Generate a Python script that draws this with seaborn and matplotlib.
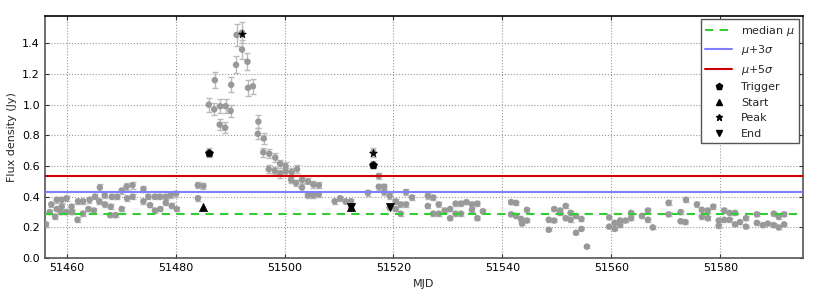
import matplotlib
matplotlib.use("Agg")
import numpy as np
import pandas as pd
import matplotlib.pyplot as plt
import seaborn as sns
from matplotlib.lines import Line2D

# light curve points (MJD, flux density in Jy, error)
mjd = [
    # quiescent start
    51456.2, 51456.9, 51457.2, 51457.9, 51458.2, 51458.2, 51458.9, 51459.1, 51459.1, 51460.0,
    51460.0, 51460.9, 51461.0, 51462.0, 51462.1, 51463.0, 51463.0, 51464.0, 51464.2, 51465.0,
    51465.2, 51466.0, 51466.1, 51467.0, 51467.0, 51468.0, 51468.1, 51468.3, 51469.0, 51469.3,
    51470.1, 51470.1, 51471.0, 51471.1, 51472.1, 51472.1, 51474.1, 51474.1, 51475.0, 51475.3,
    51476.2, 51476.2, 51477.1, 51477.2, 51478.2, 51478.2, 51479.1, 51479.3, 51480.1, 51480.2,
    # flare 1
    51484.1, 51485.1, 51484.1, 51486.1, 51486.1, 51487.1, 51487.2, 51488.1, 51488.2, 51489.1,
    51489.2, 51490.1, 51490.2, 51491.1, 51491.2, 51492.2, 51492.2, 51493.2, 51493.3, 51494.2,
    51495.2, 51495.1, 51496.2, 51496.1, 51497.2, 51497.1, 51498.3, 51498.2, 51499.2, 51499.2,
    51500.2, 51500.2, 51501.2, 51501.3, 51502.3, 51502.1, 51503.2, 51503.2, 51504.3, 51504.3,
    51505.3, 51505.3, 51506.3, 51506.3,
    # flare 2 and after
    51509.2, 51510.2, 51511.2, 51512.2, 51512.2, 51515.3, 51516.2, 51516.3, 51517.3, 51517.3,
    51518.3, 51518.3, 51519.3, 51519.3, 51520.4, 51520.4, 51521.3, 51521.3, 51522.3, 51522.3,
    51523.4, 51526.3, 51526.3, 51527.3, 51527.3, 51528.3, 51528.3, 51529.4, 51530.4, 51530.4,
    51531.4, 51531.4, 51532.4, 51532.4, 51533.4, 51534.4, 51534.4, 51535.4, 51535.4, 51536.4,
    # later
    51541.6, 51542.5, 51541.6, 51542.5, 51543.4, 51543.6, 51544.5, 51544.5, 51548.5, 51548.5,
    51549.5, 51549.5, 51550.6, 51550.6, 51551.6, 51551.6, 51552.5, 51552.5, 51553.5, 51553.5,
    51554.5, 51554.5, 51555.5, 51559.6, 51559.6, 51560.6, 51560.6, 51561.6, 51561.6, 51562.6,
    51563.6, 51563.6, 51565.6, 51566.7, 51566.7, 51567.6, 51570.5, 51570.5,
    51572.7, 51572.7, 51573.6, 51573.7, 51575.7, 51576.6, 51576.6, 51577.7, 51577.7, 51578.7,
    51579.7, 51579.7, 51580.7, 51580.7, 51581.7, 51581.7, 51582.7, 51582.7, 51583.6, 51584.7,
    51584.7, 51586.7, 51586.7, 51587.8, 51588.7, 51589.8, 51589.8, 51590.7, 51590.7, 51591.7,
    51591.7,
]
flux = [
    0.22, 0.30, 0.35, 0.27, 0.32, 0.38, 0.30, 0.38, 0.335, 0.39,
    0.30, 0.335, 0.30, 0.25, 0.37, 0.37, 0.29, 0.32, 0.38, 0.31,
    0.40, 0.37, 0.46, 0.41, 0.35, 0.28, 0.335, 0.40, 0.28, 0.40,
    0.44, 0.32, 0.465, 0.39, 0.475, 0.40, 0.45, 0.37, 0.40, 0.345,
    0.40, 0.31, 0.40, 0.32, 0.40, 0.36, 0.41, 0.34, 0.42, 0.32,
    0.475, 0.47, 0.39, 0.69, 1.00, 0.97, 1.16, 0.87, 0.99, 0.85,
    0.99, 0.96, 1.13, 1.26, 1.455, 1.36, 1.47, 1.28, 1.11, 1.12,
    0.89, 0.81, 0.78, 0.69, 0.68, 0.58, 0.655, 0.57, 0.615, 0.55,
    0.60, 0.565, 0.51, 0.56, 0.58, 0.49, 0.51, 0.46, 0.50, 0.41,
    0.48, 0.41, 0.475, 0.415,
    0.37, 0.39, 0.37, 0.37, 0.33, 0.425, 0.61, 0.69, 0.535, 0.465,
    0.465, 0.43, 0.405, 0.33, 0.37, 0.32, 0.35, 0.29, 0.43, 0.35,
    0.395, 0.405, 0.34, 0.395, 0.29, 0.29, 0.35, 0.31, 0.32, 0.26,
    0.29, 0.355, 0.355, 0.29, 0.365, 0.35, 0.315, 0.26, 0.355, 0.305,
    0.365, 0.36, 0.285, 0.275, 0.255, 0.225, 0.245, 0.315, 0.185, 0.25,
    0.245, 0.32, 0.31, 0.295, 0.34, 0.26, 0.25, 0.295, 0.165, 0.275,
    0.255, 0.19, 0.075, 0.265, 0.205, 0.23, 0.19, 0.245, 0.215, 0.245,
    0.295, 0.26, 0.275, 0.31, 0.25, 0.20, 0.36, 0.285,
    0.30, 0.24, 0.235, 0.38, 0.35, 0.315, 0.27, 0.31, 0.26, 0.335,
    0.245, 0.21, 0.31, 0.25, 0.295, 0.25, 0.295, 0.22, 0.235, 0.26,
    0.205, 0.285, 0.23, 0.215, 0.225, 0.29, 0.215, 0.20, 0.27, 0.285,
    0.22,
]
flux_err = [
    0.015, 0.015, 0.015, 0.015, 0.015, 0.018, 0.015, 0.018, 0.015, 0.018,
    0.015, 0.015, 0.015, 0.015, 0.018, 0.018, 0.015, 0.015, 0.018, 0.015,
    0.018, 0.018, 0.022, 0.02, 0.015, 0.015, 0.015, 0.018, 0.015, 0.018,
    0.02, 0.015, 0.022, 0.018, 0.022, 0.018, 0.02, 0.018, 0.018, 0.015,
    0.018, 0.015, 0.018, 0.015, 0.018, 0.016, 0.018, 0.016, 0.02, 0.015,
    0.02, 0.02, 0.015, 0.03, 0.045, 0.04, 0.05, 0.035, 0.045, 0.035,
    0.045, 0.04, 0.05, 0.055, 0.07, 0.06, 0.07, 0.055, 0.05, 0.05,
    0.04, 0.035, 0.035, 0.03, 0.03, 0.025, 0.03, 0.025, 0.025, 0.025,
    0.025, 0.025, 0.02, 0.025, 0.025, 0.02, 0.02, 0.02, 0.02, 0.015,
    0.02, 0.015, 0.02, 0.015,
    0.016, 0.018, 0.016, 0.016, 0.015, 0.02, 0.025, 0.03, 0.022, 0.02,
    0.02, 0.018, 0.018, 0.015, 0.016, 0.015, 0.015, 0.013, 0.018, 0.015,
    0.016, 0.017, 0.015, 0.016, 0.013, 0.013, 0.015, 0.014, 0.014, 0.012,
    0.013, 0.015, 0.015, 0.013, 0.015, 0.015, 0.014, 0.012, 0.015, 0.014,
    0.015, 0.015, 0.013, 0.013, 0.012, 0.011, 0.012, 0.014, 0.01, 0.012,
    0.012, 0.014, 0.014, 0.013, 0.015, 0.012, 0.012, 0.013, 0.01, 0.013,
    0.012, 0.01, 0.008, 0.012, 0.011, 0.011, 0.01, 0.012, 0.011, 0.012,
    0.013, 0.012, 0.013, 0.014, 0.012, 0.011, 0.016, 0.013,
    0.013, 0.012, 0.012, 0.017, 0.015, 0.014, 0.013, 0.014, 0.012, 0.015,
    0.012, 0.011, 0.014, 0.012, 0.013, 0.012, 0.013, 0.011, 0.012, 0.012,
    0.011, 0.013, 0.011, 0.011, 0.011, 0.013, 0.011, 0.011, 0.012, 0.013,
    0.011,
]

# threshold levels
median_mu = 0.286
mu_3sigma = 0.433
mu_5sigma = 0.532

# flare events
trigger_mjd = [51486.1, 51516.2]
trigger_flux = [0.688, 0.61]
start_mjd = [51485.0, 51512.2]
start_flux = [0.334, 0.33]
peak_mjd = [51492.2, 51516.3]
peak_flux = [1.463, 0.688]
end_mjd = [51512.2, 51519.3]
end_flux = [0.33, 0.33]

df = pd.DataFrame({"mjd": mjd, "flux": flux, "err": flux_err})

sns.set_style("ticks")
plt.rcParams["font.family"] = ["DejaVu Sans"]
plt.rcParams.update({
    "xtick.direction": "in", "ytick.direction": "in",
    "xtick.top": True, "ytick.right": True,
    "xtick.labelsize": 8, "ytick.labelsize": 8,
    "axes.labelsize": 8,
    "mathtext.fontset": "dejavusans",
})

fig, ax = plt.subplots(figsize=(8.3, 2.97), dpi=100)
fig.subplots_adjust(left=0.054, right=0.967, top=0.947, bottom=0.131)

ax.errorbar(df["mjd"], df["flux"], yerr=df["err"], fmt="none", ecolor="#bbbbbb",
            elinewidth=1, capsize=2, capthick=1, zorder=2)
sns.scatterplot(data=df, x="mjd", y="flux", color="#999999", s=22, edgecolor="none",
                ax=ax, zorder=3, legend=False)

ax.axhline(median_mu, color="#33cc33", ls="--", lw=1.5, dashes=(4, 3), zorder=4)
ax.axhline(mu_3sigma, color="#8080ff", lw=1.5, zorder=4)
ax.axhline(mu_5sigma, color="#cc0000", lw=1.5, zorder=4)

sns.scatterplot(x=trigger_mjd, y=trigger_flux, marker="p", color="k", s=35, edgecolor="k", ax=ax, zorder=5)
sns.scatterplot(x=start_mjd, y=start_flux, marker="^", color="k", s=35, edgecolor="k", ax=ax, zorder=5)
sns.scatterplot(x=peak_mjd, y=peak_flux, marker="*", color="k", s=35, edgecolor="k", ax=ax, zorder=5)
sns.scatterplot(x=end_mjd, y=end_flux, marker="v", color="k", s=35, edgecolor="k", ax=ax, zorder=5)

ax.set_xlim(51456.0, 51595.1)
ax.set_ylim(0, 1.58)
ax.set_xticks(np.arange(51460, 51581, 20))
ax.set_yticks(np.arange(0, 1.41, 0.2))
ax.ticklabel_format(axis="x", useOffset=False, style="plain")
ax.grid(True, linestyle=":", color="#999999", linewidth=0.8)
ax.set_axisbelow(True)
ax.set_xlabel("MJD")
ax.set_ylabel("Flux density (Jy)")
for s in ax.spines.values():
    s.set_color("#555555")
    s.set_linewidth(1.2)
ax.spines["top"].set_color("black")
ax.tick_params(colors="#333333", length=3)
ax.tick_params(labelcolor="black")

handles = [
    Line2D([], [], color="#33cc33", ls="--", lw=1.5, dashes=(4, 3)),
    Line2D([], [], color="#8080ff", lw=1.5),
    Line2D([], [], color="#cc0000", lw=1.5),
    Line2D([], [], color="k", marker="p", ls="none", markersize=5),
    Line2D([], [], color="k", marker="^", ls="none", markersize=5),
    Line2D([], [], color="k", marker="*", ls="none", markersize=5),
    Line2D([], [], color="k", marker="v", ls="none", markersize=5),
]
labels = [r"median $\mu$", r"$\mu$+3$\sigma$", r"$\mu$+5$\sigma$", "Trigger", "Start", "Peak", "End"]
leg = ax.legend(handles, labels, loc="upper right", fontsize=8, handlelength=2.4,
                numpoints=1, fancybox=False, framealpha=1, borderaxespad=0.3)
leg.get_frame().set_edgecolor("#555555")
leg.get_frame().set_linewidth(1.0)

fig.savefig("out.png", dpi=100)
